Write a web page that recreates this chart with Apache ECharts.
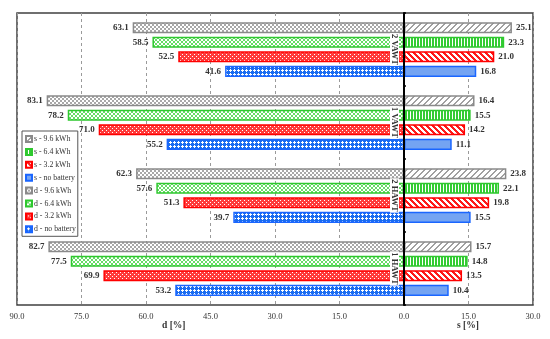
<!DOCTYPE html>
<html><head><meta charset="utf-8">
<script src="https://cdn.jsdelivr.net/npm/echarts@6/dist/echarts.min.js"></script>
<style>html,body{margin:0;padding:0;background:#fff}#c{width:550px;height:339px}</style>
</head><body><div id="c"></div>
<script>
// ---- data ----
const categories = ['2 VAWT', '1 VAWT', '2 HAWT', '1 HAWT'];
const s96 = [25.1, 16.4, 23.8, 15.7];
const s64 = [23.3, 15.5, 22.1, 14.8];
const s32 = [21.0, 14.2, 19.8, 13.5];
const s0  = [16.8, 11.1, 15.5, 10.4];
const d96 = [63.1, 83.1, 62.3, 82.7];
const d64 = [58.5, 78.2, 57.6, 77.5];
const d32 = [52.5, 71.0, 51.3, 69.9];
const d0  = [41.6, 55.2, 39.7, 53.2];
const xTicks = {min: -90, max: 30, interval: 15};
const seriesNames = ['s - 9.6 kWh','s - 6.4 kWh','s - 3.2 kWh','s - no battery','d - 9.6 kWh','d - 6.4 kWh','d - 3.2 kWh','d - no battery'];

// ---- patterns ----
function pat(w, h, bg, fg, pts) {
  const c = document.createElement('canvas'); c.width = w; c.height = h;
  const g = c.getContext('2d');
  g.fillStyle = bg; g.fillRect(0, 0, w, h);
  g.fillStyle = fg;
  pts.forEach(p => g.fillRect(p[0], p[1], 1, 1));
  return {image: c, repeat: 'repeat'};
}
const pD96 = pat(4, 4, '#ffffff', '#a8a8a8', [[0,0],[1,0],[0,1],[1,1],[2,2],[3,2],[2,3],[3,3]]);
const pD64 = pat(4, 4, '#ffffff', '#66dd66', [[0,0],[1,1],[2,2],[3,3],[3,0],[2,1],[1,2],[0,3]]);
const pD32 = pat(4, 4, '#ff3b3b', '#ffffff', [[0,0],[2,2]]);
const pD0  = pat(4, 4, '#1a6cf0', '#ffffff', [[2,1],[1,2],[2,2],[3,2],[2,3]]);
const pS96 = (function(){ const pts=[]; for(let i=0;i<6;i++){pts.push([i,5-i]);pts.push([(i+1)%6,5-i]);} return pat(6,6,'#ffffff','#a0a0a0',pts); })();
const pS64 = (function(){ const pts=[]; for(let y=0;y<3;y++){pts.push([0,y]);pts.push([1,y]);} return pat(3,3,'#ffffff','#33cc33',pts); })();
const pS32 = (function(){ const pts=[]; for(let i=0;i<6;i++){pts.push([i,i]);pts.push([(i+1)%6,i]);pts.push([(i+2)%6,i]);} return pat(6,6,'#ffffff','#ff1a1a',pts); })();
const pS0 = '#74a4f2';

const FONT = 'Liberation Serif';
function mk(name, vals, sign, fill, border, stack) {
  return {
    name: name, type: 'bar', stack: stack,
    data: vals.map(v => sign * v),
    barGap: '30%', barCategoryGap: '25%',
    itemStyle: {color: fill, borderColor: border, borderWidth: 1.5},
    label: {
      show: true, position: sign < 0 ? 'left' : 'right', distance: 4,
      formatter: p => Math.abs(p.value).toFixed(1),
      fontFamily: FONT, fontSize: 9, fontWeight: 'bold', color: '#333'
    }
  };
}

const chart = echarts.init(document.getElementById('c'));
chart.setOption({
  animation: false,
  backgroundColor: '#fff',
  grid: {left: 17, right: 17, top: 13, bottom: 34, show: true, borderColor: '#404040', borderWidth: 1.5},
  legend: {
    orient: 'vertical', left: 22, top: 131,
    icon: 'rect', itemWidth: 6, itemHeight: 6, itemGap: 4.9,
    padding: [4, 2, 3, 3],
    backgroundColor: '#fff', borderColor: '#555', borderWidth: 1,
    textStyle: {fontFamily: FONT, fontSize: 7.8, color: '#333', lineHeight: 8, padding: [0,0,0,-3]},
    data: seriesNames
  },
  xAxis: {
    type: 'value', min: xTicks.min, max: xTicks.max, interval: xTicks.interval,
    axisLine: {show: false}, axisTick: {show: false},
    splitLine: {show: true, lineStyle: {type: [3, 3], color: '#9a9a9a', width: 1}},
    axisLabel: {formatter: v => Math.abs(v).toFixed(1), fontFamily: FONT, fontSize: 8.5, color: '#333', margin: 7}
  },
  yAxis: {
    type: 'category', data: categories, inverse: true, z: 5,
    position: 'left', offset: -387,
    axisLine: {onZero: false, lineStyle: {color: '#000', width: 2}},
    axisTick: {show: true, inside: true, length: 2, lineStyle: {color: '#000', width: 1.5}},
    splitLine: {show: false},
    axisLabel: {rotate: -90, margin: 5, fontFamily: FONT, fontSize: 8.5, fontWeight: 'bold', color: '#333', backgroundColor: '#fff', padding: [0, 1, 0, 1]}
  },
  graphic: [
    {type: 'text', left: 162, top: 321, style: {text: 'd [%]', font: 'bold 9.5px "Liberation Serif"', fill: '#333'}},
    {type: 'text', left: 457, top: 321, style: {text: 's [%]', font: 'bold 9.5px "Liberation Serif"', fill: '#333'}}
  ],
  series: [
    mk(seriesNames[0], s96, 1, pS96, '#8a8a8a', 'a'),
    mk(seriesNames[1], s64, 1, pS64, '#2ec82e', 'b'),
    mk(seriesNames[2], s32, 1, pS32, '#ff0000', 'c'),
    mk(seriesNames[3], s0, 1, pS0, '#1a66ff', 'd'),
    mk(seriesNames[4], d96, -1, pD96, '#8a8a8a', 'a'),
    mk(seriesNames[5], d64, -1, pD64, '#2ec82e', 'b'),
    mk(seriesNames[6], d32, -1, pD32, '#ff0000', 'c'),
    mk(seriesNames[7], d0, -1, pD0, '#1a66ff', 'd')
  ]
});
</script></body></html>
